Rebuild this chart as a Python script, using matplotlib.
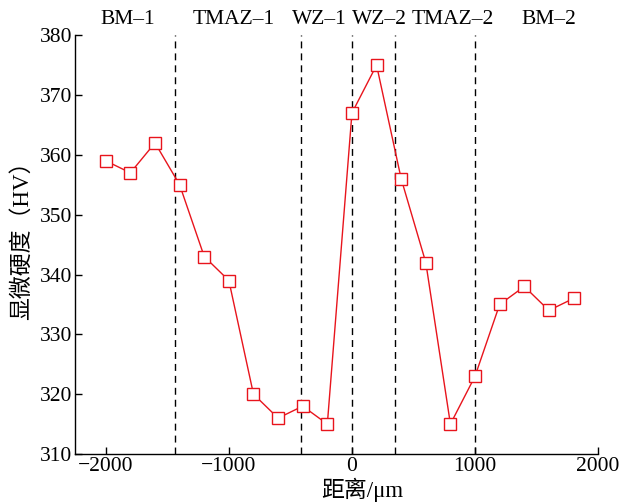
import matplotlib
matplotlib.use("Agg")
import matplotlib.pyplot as plt

# distance from weld centre (um) and microhardness (HV)
distance = [-2000, -1800, -1600, -1400, -1200, -1000, -800, -600, -400, -200,
            0, 200, 400, 600, 800, 1000, 1200, 1400, 1600, 1800]
hardness = [359, 357, 362, 355, 343, 339, 320, 316, 318, 315,
            367, 375, 356, 342, 315, 323, 335, 338, 334, 336]

# zone boundaries and zone names
boundaries = [-1440, -415, 0, 350, 1000]
zone_names = ["BM–1", "TMAZ–1", "WZ–1", "WZ–2", "TMAZ–2", "BM–2"]
zone_centres = [-1821, -959, -268, 220, 821, 1602]

xticks = [-2000, -1000, 0, 1000, 2000]
yticks = [310, 320, 330, 340, 350, 360, 370, 380]

serif = ["Liberation Serif", "Noto Sans CJK SC"]
plt.rcParams["font.family"] = serif

fig = plt.figure(figsize=(6.25, 5.03), dpi=100)
ax = fig.add_axes([0.12, 0.0974, 0.837, 0.8326])

for b in boundaries:
    ax.plot([b, b], [310, 380], color="black", linestyle=(0, (5, 3.6)), linewidth=1.0, zorder=1)

ax.plot(distance, hardness, color="#e8141c", linewidth=1.0, marker="s",
        markersize=9, markerfacecolor="white", markeredgecolor="#e8141c",
        markeredgewidth=1.0, zorder=3)

ax.set_xlim(-2250, 2000)
ax.set_ylim(310, 380)
ax.set_xticks(xticks)
ax.set_xticklabels([str(t).replace("-", "−") for t in xticks])
ax.set_yticks(yticks)
ax.tick_params(direction="in", length=5, width=1, labelsize=15.5, pad=2)
ax.spines["top"].set_visible(False)
ax.spines["right"].set_visible(False)
ax.spines["left"].set_linewidth(1.0)
ax.spines["bottom"].set_linewidth(1.0)

for name, xc in zip(zone_names, zone_centres):
    ax.text(xc, 381.0, name, ha="center", va="bottom", fontsize=15.5)

ax.set_xlabel("距离/μm", fontsize=16.5, va="top")
ax.xaxis.set_label_coords(0.549, -0.057)
ax.set_ylabel("显微硬度（HV）", fontsize=16.5, va="bottom")
ax.yaxis.set_label_coords(-0.080, 0.523)

fig.savefig("out.png", dpi=100)
